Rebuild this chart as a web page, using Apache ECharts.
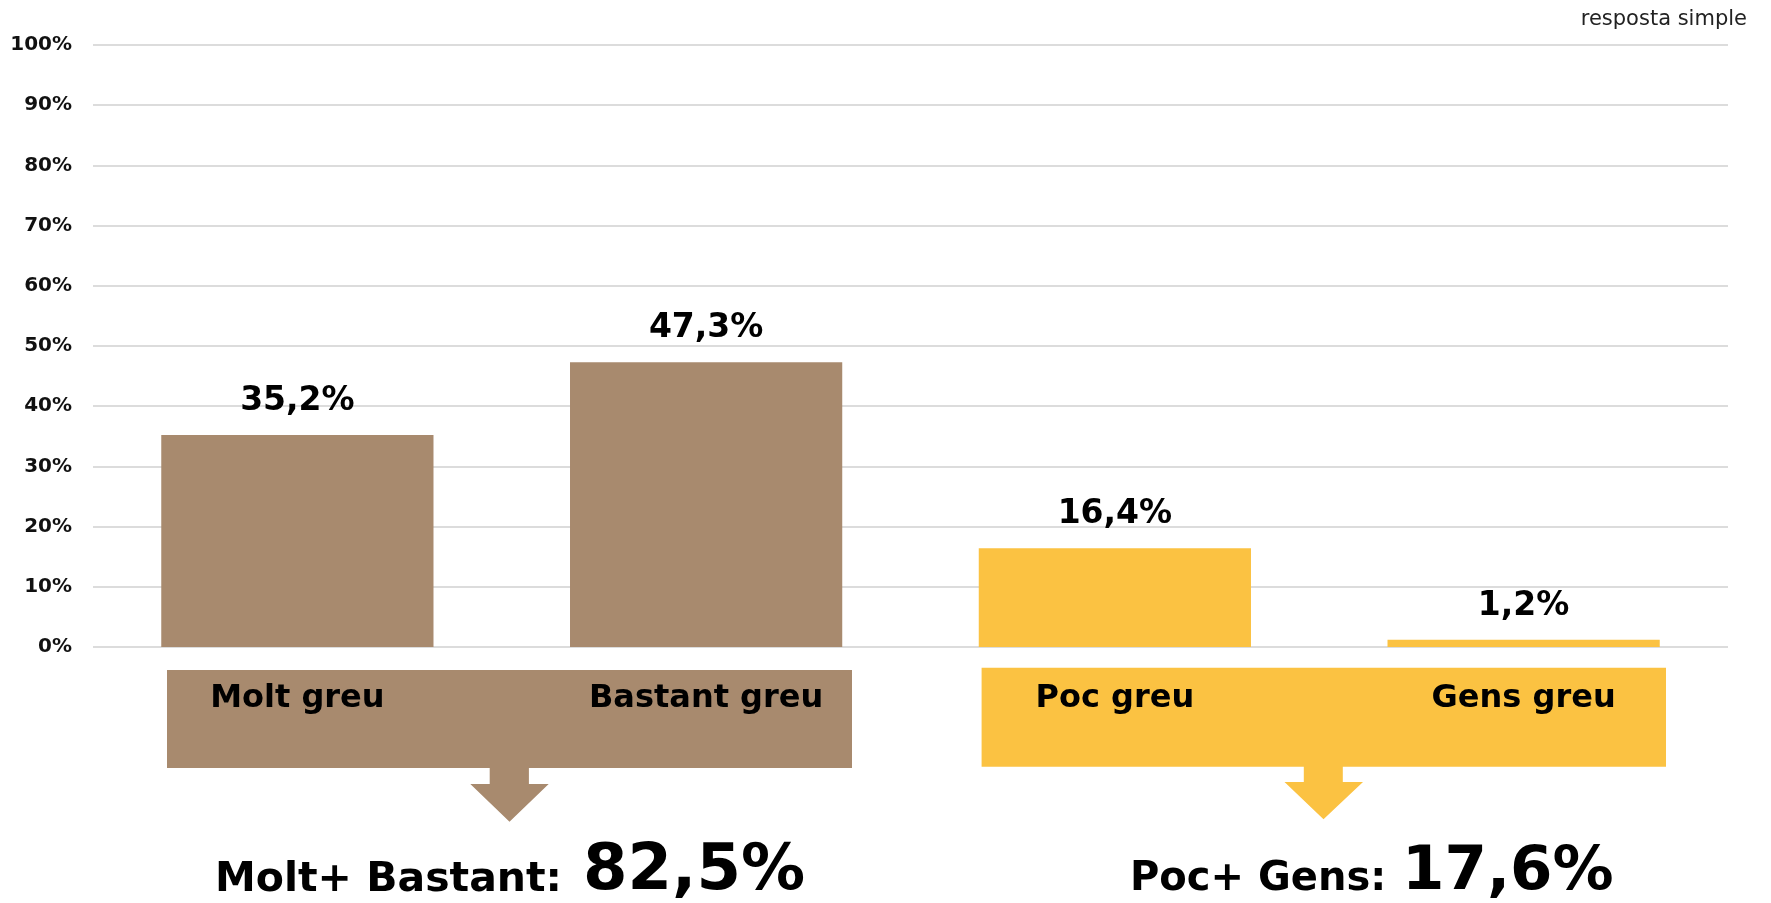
<!DOCTYPE html>
<html>
<head>
<meta charset="utf-8">
<script src="https://cdn.jsdelivr.net/npm/echarts@6/dist/echarts.min.js"></script>
<style>
  html, body { margin: 0; padding: 0; background: #fff; }
  #chart { width: 1771px; height: 903px; }
</style>
</head>
<body>
<div id="chart"></div>
<script>
// dades
const categories = ['Molt greu', 'Bastant greu', 'Poc greu', 'Gens greu'];
const values = [35.2, 47.3, 16.4, 1.2];
const yTicks = [0, 10, 20, 30, 40, 50, 60, 70, 80, 90, 100];
const groupMolt = [0, 1];   // Molt + Bastant
const groupPoc = [2, 3];    // Poc + Gens

const BROWN = '#A88A6E';
const YELLOW = '#FBC242';
const FONT = 'DejaVu Sans';

function fmt(v) { return v.toFixed(1).replace('.', ','); }
function sumOf(idx) { return idx.reduce((s, i) => s + values[i], 0); }

const chart = echarts.init(document.getElementById('chart'));

chart.setOption({
  animation: false,
  title: {
    text: 'resposta simple',
    right: 19,
    top: 4,
    textStyle: { fontFamily: FONT, fontSize: 21, fontWeight: 'normal', color: '#222' }
  },
  grid: { left: 93, right: 43, top: 45, bottom: 256, containLabel: false },
  xAxis: {
    type: 'category',
    data: categories,
    z: 10,
    axisLine: { show: false },
    axisTick: { show: false },
    axisLabel: {
      margin: 36,
      interval: 0,
      fontFamily: FONT,
      fontSize: 32,
      fontWeight: 'bold',
      color: '#000'
    }
  },
  yAxis: {
    type: 'value',
    min: yTicks[0],
    max: yTicks[yTicks.length - 1],
    interval: 10,
    axisLine: { show: false },
    axisTick: { show: false },
    axisLabel: {
      margin: 21,
      formatter: '{value}%',
      fontFamily: FONT,
      fontSize: 20,
      fontWeight: 'bold',
      color: '#111'
    },
    splitLine: { lineStyle: { color: '#dcdcdc', width: 2 } }
  },
  series: [{
    type: 'bar',
    barWidth: '66.6%',
    data: values.map((v, i) => ({
      value: v,
      itemStyle: { color: groupMolt.indexOf(i) >= 0 ? BROWN : YELLOW }
    })),
    label: {
      show: true,
      position: 'top',
      distance: 17,
      formatter: p => fmt(p.value) + '%',
      fontFamily: FONT,
      fontSize: 33,
      fontWeight: 'bold',
      color: '#000'
    }
  }],
  graphic: [
    // caixes sota l'eix
    { type: 'rect', z: 1, shape: { x: 167, y: 670, width: 685, height: 98 }, style: { fill: BROWN } },
    { type: 'rect', z: 1, shape: { x: 981.6, y: 667.7, width: 684.4, height: 99 }, style: { fill: YELLOW } },
    // fletxes
    { type: 'polygon', z: 1, shape: { points: [[489.7, 767], [528.9, 767], [528.9, 784], [548.7, 784], [509.5, 821.7], [470.3, 784], [489.7, 784]] }, style: { fill: BROWN } },
    { type: 'polygon', z: 1, shape: { points: [[1303.8, 766], [1342.8, 766], [1342.8, 782], [1363, 782], [1323.5, 819.3], [1284.5, 782], [1303.8, 782]] }, style: { fill: YELLOW } },
    // totals
    { type: 'text', z: 1, x: 215, y: 880, style: { text: 'Molt+ Bastant:', font: 'bold 41px "DejaVu Sans"', fill: '#000', verticalAlign: 'middle' } },
    { type: 'text', z: 1, x: 583, y: 872, style: { text: fmt(sumOf(groupMolt)) + '%', font: 'bold 64px "DejaVu Sans"', fill: '#000', verticalAlign: 'middle' } },
    { type: 'text', z: 1, x: 1130, y: 880, style: { text: 'Poc+ Gens:', font: 'bold 40px "DejaVu Sans"', fill: '#000', verticalAlign: 'middle' } },
    { type: 'text', z: 1, x: 1402, y: 873, style: { text: fmt(sumOf(groupPoc)) + '%', font: 'bold 61px "DejaVu Sans"', fill: '#000', verticalAlign: 'middle' } }
  ]
});
</script>
</body>
</html>
